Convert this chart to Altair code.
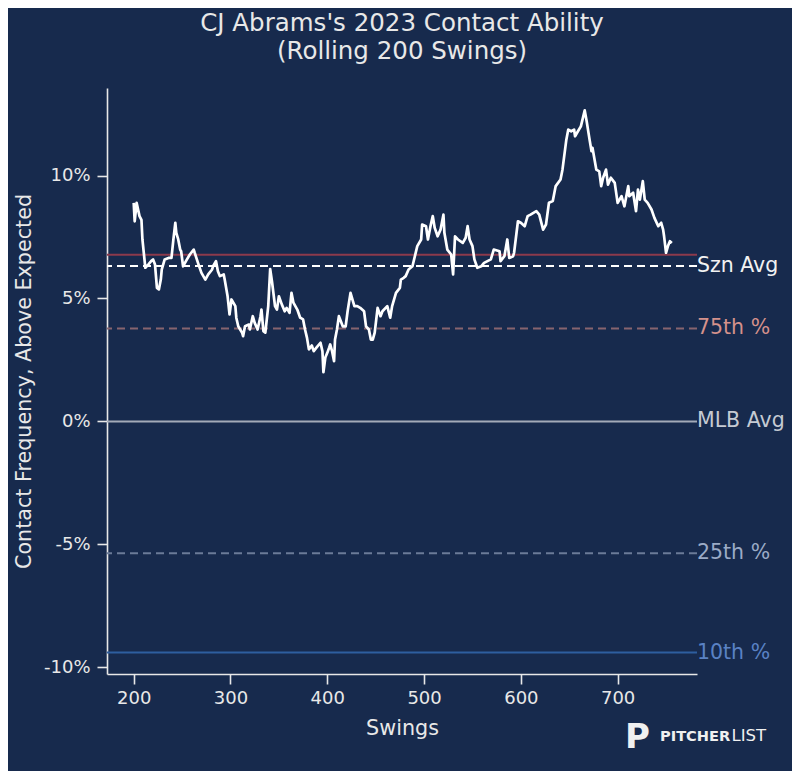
import altair as alt
import pandas as pd

# Rolling contact frequency above expected (%)
swings = [200, 201, 203, 206, 208, 209, 212, 215, 218, 220, 222, 224, 226, 228, 229, 232, 236, 239, 241, 243,
          244, 246, 248, 249, 251, 255, 258, 262, 263, 267, 270, 274, 277, 281, 282, 285, 287, 289, 293, 294,
          297, 299, 301, 305, 306, 308, 312, 313, 315, 319, 320, 323, 325, 328, 331, 332, 334, 336, 339, 341,
          343, 346, 348, 350, 353, 356, 358, 361, 363, 365, 369, 372, 375, 377, 379, 381, 384, 386, 389, 393,
          395, 396, 398, 400, 402, 403, 405, 407, 408, 410, 412, 416, 419, 421, 424, 428, 431, 434, 438, 440,
          443, 445, 447, 449, 452, 455, 457, 462, 465, 467, 471, 475, 476, 479, 481, 484, 488, 493, 497, 498,
          502, 504, 507, 509, 511, 514, 517, 520, 521, 524, 528, 530, 532, 535, 540, 543, 545, 547, 550, 552,
          555, 559, 562, 569, 572, 578, 579, 583, 586, 588, 592, 593, 597, 600, 604, 607, 610, 616, 619, 623,
          626, 629, 633, 636, 641, 643, 647, 649, 652, 655, 656, 659, 662, 666, 668, 671, 673, 674, 678, 681,
          683, 685, 688, 690, 693, 697, 700, 704, 707, 711, 712, 716, 719, 721, 723, 726, 728, 731, 735, 738,
          742, 745, 747, 748, 750, 752, 754, 756]
contact = [8.89, 8.14, 8.89, 8.35, 8.20, 7.40, 6.25, 6.38, 6.52, 6.59, 6.38, 5.43, 5.37, 5.77, 6.18, 6.59, 6.65, 6.65, 7.40, 8.08,
           7.67, 7.40, 6.99, 6.92, 6.31, 6.59, 6.79, 6.99, 6.86, 6.38, 6.04, 5.77, 5.98, 6.18, 6.31, 6.52, 6.11, 5.91, 5.98, 5.77,
           5.09, 4.35, 4.96, 4.69, 4.22, 3.87, 3.61, 3.47, 3.87, 3.94, 3.74, 4.28, 4.01, 3.74, 4.28, 4.55, 3.67, 3.61, 4.69, 6.20,
           5.65, 4.69, 4.55, 5.09, 4.76, 4.48, 4.62, 4.42, 5.23, 4.83, 4.55, 4.22, 4.15, 3.74, 3.41, 2.93, 3.09, 2.86, 3.01, 3.20,
           2.85, 2.00, 2.60, 2.79, 3.01, 3.13, 2.85, 2.45, 3.33, 3.74, 4.28, 3.87, 3.87, 4.48, 5.23, 4.69, 4.69, 4.62, 4.48, 3.87,
           3.74, 3.33, 3.33, 3.61, 4.62, 4.28, 4.48, 4.69, 4.22, 4.69, 5.23, 5.43, 5.77, 5.84, 5.91, 6.18, 6.31, 7.13, 7.40, 8.01,
           7.94, 7.40, 8.01, 8.35, 7.87, 7.53, 7.80, 8.41, 7.67, 6.99, 6.79, 5.98, 7.53, 7.40, 7.26, 7.47, 7.94, 7.40, 7.13, 6.59,
           6.25, 6.31, 6.45, 6.59, 6.99, 6.92, 6.52, 6.72, 7.40, 6.65, 6.72, 6.86, 8.14, 8.08, 7.94, 8.35, 8.41, 8.55, 8.41, 7.80,
           8.01, 8.89, 8.96, 9.57, 9.84, 10.24, 11.46, 11.87, 11.80, 11.87, 11.60, 11.80, 12.00, 12.65, 12.21, 11.46, 10.99, 11.13, 10.24, 10.17,
           9.57, 9.91, 10.24, 9.63, 9.91, 9.70, 8.89, 9.16, 8.75, 9.57, 9.16, 9.30, 8.55, 9.43, 9.02, 9.77, 9.02, 8.89, 8.62, 8.28,
           7.94, 8.08, 7.80, 7.53, 6.86, 7.13, 7.33, 7.26]

# Reference lines
ref_names = ["", "Szn Avg", "75th %", "MLB Avg", "25th %", "10th %"]
ref_values = [6.78, 6.32, 3.78, 0.0, -5.36, -9.40]
ref_line_colors = ["#8c3a4c", "#ffffff", "#87646f", "#a3aab8", "#6b7b98", "#2e5e9f"]
ref_text_colors = ["#8c3a4c", "#f2f2f2", "#d4918b", "#c5cad3", "#9babc6", "#5a82c4"]
ref_dashed = [False, True, True, False, True, False]

x_ticks = [200, 300, 400, 500, 600, 700]
y_ticks = [-10, -5, 0, 5, 10]
x_domain = [172.4, 782.0]
y_domain = [-10.27, 13.56]

BG = "#172a4d"
FG = "#e8e8e8"
FONT = "DejaVu Sans"

df = pd.DataFrame({"swings": swings, "contact": contact})
refs = pd.DataFrame({
    "name": ref_names, "value": ref_values, "lc": ref_line_colors,
    "tc": ref_text_colors, "dashed": ref_dashed,
})
refs["xpos"] = x_domain[1]

xs = alt.Scale(domain=x_domain, nice=False, zero=False)
ys = alt.Scale(domain=y_domain, nice=False, zero=False)

x_axis = alt.Axis(values=x_ticks, title="Swings", grid=False, labelFontSize=18, titleFontSize=20.7,
                  labelColor=FG, titleColor=FG, domainColor=FG, tickColor=FG, tickSize=10,
                  domainWidth=1.6, tickWidth=1.6, labelPadding=5, titlePadding=11,
                  labelFont=FONT, titleFont=FONT, titleFontWeight="normal")
y_axis = alt.Axis(values=y_ticks, title="Contact Frequency, Above Expected", grid=False,
                  labelExpr="datum.value + '%'", labelFontSize=18, titleFontSize=20.7,
                  labelColor=FG, titleColor=FG, domainColor=FG, tickColor=FG, tickSize=10,
                  domainWidth=1.6, tickWidth=1.6, labelPadding=7, titlePadding=9,
                  labelFont=FONT, titleFont=FONT, titleFontWeight="normal")

solid_refs = alt.Chart(refs).transform_filter("!datum.dashed").mark_rule(strokeWidth=2).encode(
    y=alt.Y("value:Q", scale=ys, axis=y_axis),
    color=alt.Color("lc:N", scale=None),
)
dashed_refs = alt.Chart(refs).transform_filter("datum.dashed").mark_rule(
    strokeWidth=2, strokeDash=[8, 5]).encode(
    y=alt.Y("value:Q", scale=ys),
    color=alt.Color("lc:N", scale=None),
)
ref_labels = alt.Chart(refs).transform_filter("datum.name != ''").mark_text(
    align="left", baseline="middle", dx=0, fontSize=20.5, font=FONT).encode(
    x=alt.X("xpos:Q", scale=xs),
    y=alt.Y("value:Q", scale=ys),
    text="name:N",
    color=alt.Color("tc:N", scale=None),
)

line = alt.Chart(df).mark_line(color="white", strokeWidth=2.7, strokeJoin="round").encode(
    x=alt.X("swings:Q", scale=xs, axis=x_axis),
    y=alt.Y("contact:Q", scale=ys),
)

logo_icon = alt.Chart(pd.DataFrame({"t": ["P"]})).mark_text(
    align="left", baseline="alphabetic", fontSize=34, fontWeight="bold", font=FONT, color="#f0f0f0").encode(
    x=alt.value(518), y=alt.value(660), text="t:N")
logo_a = alt.Chart(pd.DataFrame({"t": ["PITCHER"]})).mark_text(
    align="left", baseline="alphabetic", fontSize=14.6, fontWeight="bold", font=FONT, color="#f0f0f0").encode(
    x=alt.value(553), y=alt.value(652.5), text="t:N")
logo_b = alt.Chart(pd.DataFrame({"t": ["LIST"]})).mark_text(
    align="left", baseline="alphabetic", fontSize=16.5, font=FONT, color="#f0f0f0").encode(
    x=alt.value(624.5), y=alt.value(652.5), text="t:N")

chart = alt.layer(solid_refs, dashed_refs, line, ref_labels, logo_icon, logo_a, logo_b).properties(
    width=590, height=586,
    background=BG,
    padding={"left": 99, "top": 80, "right": 95, "bottom": 97},
    autosize=alt.AutoSizeParams(type="none"),
    title=alt.TitleParams(
        text=["CJ Abrams's 2023 Contact Ability", "(Rolling 200 Swings)"],
        fontSize=24.5, color=FG, font=FONT, fontWeight="normal", anchor="middle",
        offset=24, lineHeight=28),
).configure_view(stroke=None)

chart.save("out.html", embed_options={"renderer": "svg", "actions": False})
